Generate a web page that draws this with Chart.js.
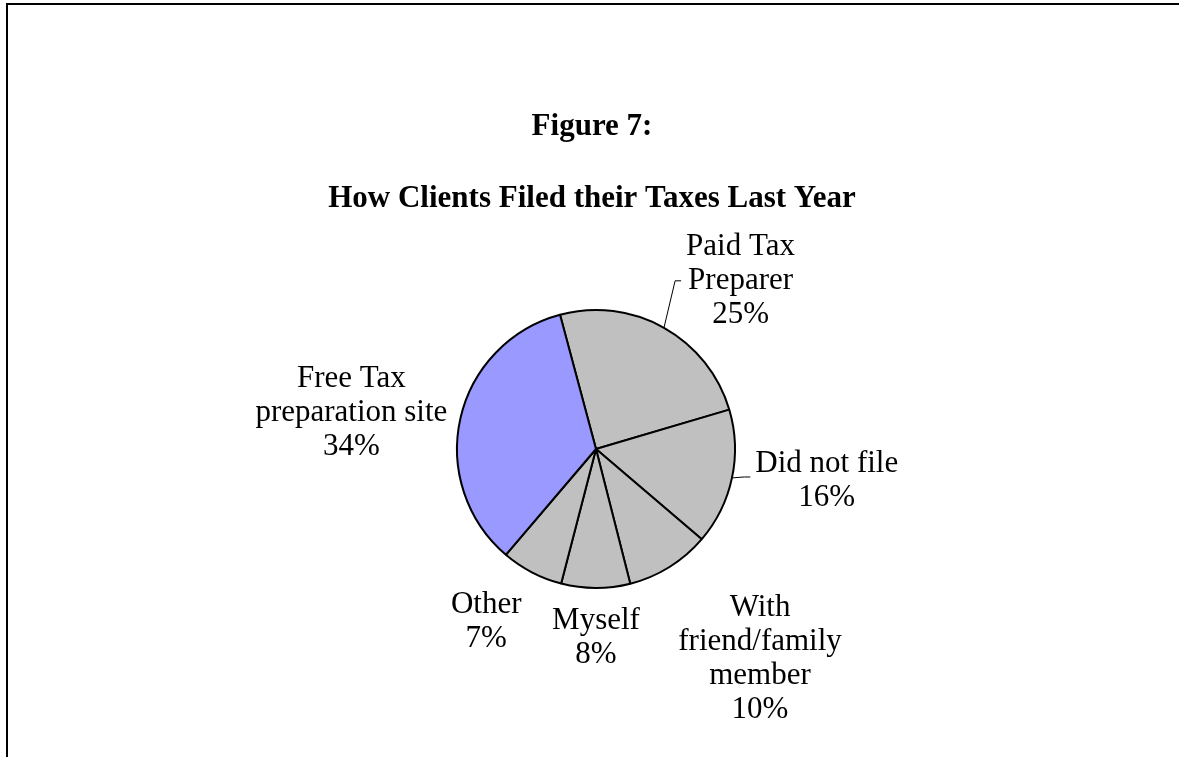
<!DOCTYPE html>
<html>
<head>
<meta charset="utf-8">
<script src="https://cdn.jsdelivr.net/npm/chart.js@4/dist/chart.umd.min.js"></script>
<style>
  html, body { margin: 0; padding: 0; background: #fff; }
  #wrap { width: 1179px; height: 757px; position: relative; }
</style>
</head>
<body>
<div id="wrap"><canvas id="pieChart" width="1179" height="757"></canvas></div>
<script>
// Slices, clockwise from the top-left edge of "Paid Tax Preparer"
const categories = [
  ['Paid Tax', 'Preparer'],
  ['Did not file'],
  ['With', 'friend/family', 'member'],
  ['Myself'],
  ['Other'],
  ['Free Tax', 'preparation site']
];
const shares = [24.6, 15.8, 9.8, 8.0, 7.2, 34.6];
const percentLabels = ['25%', '16%', '10%', '8%', '7%', '34%'];
const sliceColors = ['#C0C0C0', '#C0C0C0', '#C0C0C0', '#C0C0C0', '#C0C0C0', '#9999FF'];

const titleLines = ['Figure 7:', 'How Clients Filed their Taxes Last Year'];

// label placement, in pie radii from the centre, and whether a leader line is drawn
const labelOffsets = [[1.04, -1.21], [1.66, 0.23], [1.18, 1.51], [0.0, 1.36], [-0.79, 1.245], [-1.76, -0.26]];
const hasLeader = [true, true, false, false, false, false];

const FONT = '"Liberation Serif", "Times New Roman", serif';
const LINE_H = 34;

const figureDecor = {
  id: 'figureDecor',
  beforeDraw(chart) {
    const ctx = chart.ctx;
    ctx.save();
    ctx.strokeStyle = '#000';
    ctx.lineWidth = 2;
    ctx.beginPath();
    ctx.moveTo(7, 757);
    ctx.lineTo(7, 4);
    ctx.lineTo(1179, 4);
    ctx.stroke();
    ctx.restore();
  },
  afterDraw(chart) {
    const ctx = chart.ctx;
    const arcs = chart.getDatasetMeta(0).data;
    ctx.save();
    ctx.fillStyle = '#000';
    ctx.textAlign = 'center';
    ctx.textBaseline = 'middle';

    // title
    ctx.font = 'bold 31px ' + FONT;
    ctx.fillText(titleLines[0], 592, 127);
    ctx.fillText(titleLines[1], 592, 199);

    // slice labels
    ctx.font = '31px ' + FONT;
    arcs.forEach((arc, i) => {
      const r = arc.outerRadius;
      const cx = arc.x + labelOffsets[i][0] * r;
      const cy = arc.y + labelOffsets[i][1] * r;
      const lines = categories[i].concat(percentLabels[i]);
      const top = cy - (lines.length - 1) * LINE_H / 2;
      let maxW = 0;
      lines.forEach((t, k) => {
        ctx.fillText(t, cx, top + k * LINE_H);
        maxW = Math.max(maxW, ctx.measureText(t).width);
      });

      if (hasLeader[i]) {
        const mid = (arc.startAngle + arc.endAngle) / 2;
        const sx = arc.x + Math.cos(mid) * r;
        const sy = arc.y + Math.sin(mid) * r;
        const ex = cx - maxW / 2 - 5;
        const ey = i === 0 ? cy : cy - 4;
        ctx.strokeStyle = '#000';
        ctx.lineWidth = 1;
        ctx.beginPath();
        ctx.moveTo(sx, sy);
        ctx.lineTo(ex - 6, ey);
        ctx.lineTo(ex, ey);
        ctx.stroke();
      }
    });
    ctx.restore();
  }
};

new Chart(document.getElementById('pieChart'), {
  type: 'pie',
  data: {
    labels: categories,
    datasets: [{
      data: shares,
      backgroundColor: sliceColors,
      borderColor: '#000',
      borderWidth: 2
    }]
  },
  options: {
    responsive: false,
    animation: false,
    rotation: -15,
    layout: {
      padding: { left: 456, right: 443, top: 309, bottom: 168 }
    },
    plugins: {
      legend: { display: false },
      tooltip: { enabled: false },
      title: { display: false }
    }
  },
  plugins: [figureDecor]
});
</script>
</body>
</html>
